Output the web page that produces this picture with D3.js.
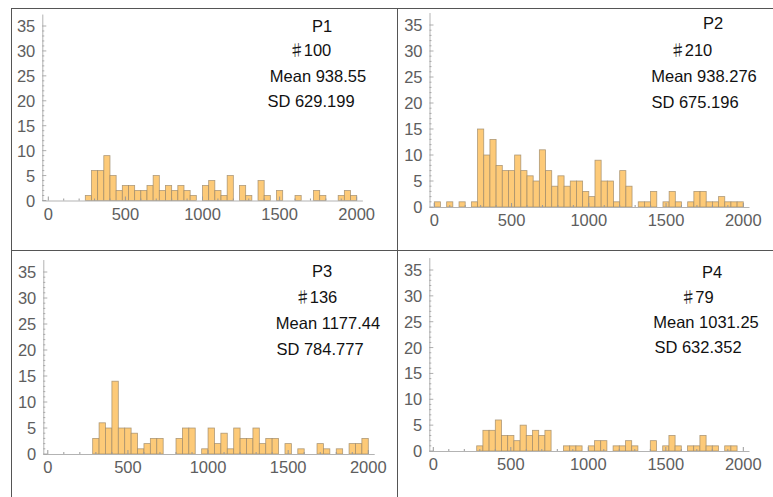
<!DOCTYPE html>
<html>
<head>
<meta charset="utf-8">
<script src="https://d3js.org/d3.v7.min.js"></script>
<style>
  body { margin: 0; background: #fff; }
  svg { display: block; }
  text { font-family: "Liberation Sans", Arial, sans-serif; }
</style>
</head>
<body>
<svg id="chart" width="773" height="497"></svg>
<script>
// histogram bins: 50 bins of width 40 from 0 to 2000
const BIN_WIDTH = 40;

const panelNames = ['P1', 'P2', 'P3', 'P4'];
const panelN = [100, 210, 136, 79];
const panelMean = ['938.55', '938.276', '1177.44', '1031.25'];
const panelSD = ['629.199', '675.196', '784.777', '632.352'];

const countsP1 = [0, 0, 0, 0, 0, 0, 1, 6, 6, 9, 5, 2, 3, 3, 2, 2, 3, 5, 2, 3,
                  2, 3, 2, 1, 0, 3, 4, 2, 1, 5, 0, 3, 1, 0, 4, 1, 0, 2, 0, 0,
                  1, 0, 0, 2, 1, 0, 0, 1, 2, 1];
const countsP2 = [1, 0, 1, 0, 1, 0, 1, 15, 10, 13, 8, 7, 7, 10, 7, 6, 5, 11, 7, 4,
                  6, 4, 5, 5, 3, 2, 9, 5, 5, 1, 7, 4, 0, 1, 1, 3, 0, 1, 3, 1,
                  0, 1, 3, 3, 1, 1, 2, 1, 1, 1];
const countsP3 = [0, 0, 0, 0, 0, 0, 0, 3, 6, 5, 14, 5, 5, 4, 1, 2, 3, 3, 0, 0,
                  3, 5, 5, 0, 1, 5, 2, 4, 1, 5, 3, 3, 5, 2, 3, 3, 0, 2, 0, 1,
                  0, 0, 2, 1, 0, 1, 0, 2, 2, 3];
const countsP4 = [0, 0, 0, 0, 0, 0, 0, 1, 4, 4, 6, 3, 3, 2, 5, 3, 4, 3, 4, 0,
                  0, 1, 1, 1, 0, 1, 2, 2, 0, 1, 1, 2, 1, 0, 0, 2, 0, 1, 3, 1,
                  0, 1, 1, 3, 1, 1, 0, 1, 1, 0];
const allCounts = [countsP1, countsP2, countsP3, countsP4];

const xTicks = [0, 500, 1000, 1500, 2000];
const yTicks = [0, 5, 10, 15, 20, 25, 30, 35];

// pixel layout of each panel (x of value 0 / 2000, y of count 0 / 35, y axis line, text centres)
const layout = [
  { x0: 48.3, x1: 356.7, axisX: 42.3, y0: 200.5, y35: 26,
    text: [[322, 26], [310, 50], [318, 76], [311, 101]] },
  { x0: 434.3, x1: 743.3, axisX: 429.5, y0: 207, y35: 25,
    text: [[713, 23], [691, 50], [704, 76], [695, 102]] },
  { x0: 47.8, x1: 368.3, axisX: 43.3, y0: 454, y35: 272,
    text: [[322, 271], [316, 297], [328, 323], [320, 349]] },
  { x0: 433.3, x1: 743.3, axisX: 429.3, y0: 451, y35: 270,
    text: [[712, 272], [697, 297], [706, 322], [698, 347]] }
];

const svg = d3.select('#chart');

// grid frame
const frame = svg.append('g')
  .attr('stroke', '#555')
  .attr('stroke-width', 1);
frame.append('line').attr('x1', 11).attr('x2', 773).attr('y1', 8.5).attr('y2', 8.5);
frame.append('line').attr('x1', 11).attr('x2', 773).attr('y1', 250.5).attr('y2', 250.5);
frame.append('line').attr('x1', 11.5).attr('x2', 11.5).attr('y1', 8).attr('y2', 497);
frame.append('line').attr('x1', 397.5).attr('x2', 397.5).attr('y1', 8).attr('y2', 497);

panelNames.forEach((name, i) => {
  const L = layout[i];
  const counts = allCounts[i];
  const bins = counts.map((c, k) => ({ start: k * BIN_WIDTH, count: c }));

  const x = d3.scaleLinear().domain([0, 2000]).range([L.x0, L.x1]);
  const y = d3.scaleLinear().domain([0, 35]).range([L.y0, L.y35]);

  const g = svg.append('g');

  // bars
  g.append('g')
    .selectAll('rect')
    .data(bins.filter(d => d.count > 0))
    .join('rect')
    .attr('x', d => x(d.start))
    .attr('width', d => x(d.start + BIN_WIDTH) - x(d.start))
    .attr('y', d => y(d.count))
    .attr('height', d => y(0) - y(d.count))
    .attr('fill', '#fdca78')
    .attr('stroke', '#9b8768')
    .attr('stroke-opacity', 0.8)
    .attr('stroke-width', 0.8);

  const xEnd = x(2040);
  const yTop = y(37.3);

  // x axis
  const xa = g.append('g');
  xa.append('line')
    .attr('x1', L.axisX).attr('x2', xEnd)
    .attr('y1', L.y0 + 0.5).attr('y2', L.y0 + 0.5)
    .attr('stroke', '#b3b3b3');
  xa.selectAll('line.minor')
    .data(d3.range(0, 2001, 100))
    .join('line')
    .attr('class', 'minor')
    .attr('x1', d => x(d)).attr('x2', d => x(d))
    .attr('y1', L.y0).attr('y2', d => L.y0 - (d % 500 === 0 ? 4 : 2))
    .attr('stroke', '#999');
  xa.selectAll('text')
    .data(xTicks)
    .join('text')
    .attr('x', d => x(d))
    .attr('y', L.y0 + 19)
    .attr('text-anchor', 'middle')
    .attr('font-size', 16.5)
    .attr('fill', '#5e5e5e')
    .text(d => d);

  // y axis
  const ya = g.append('g');
  ya.append('line')
    .attr('x1', L.axisX + 0.5).attr('x2', L.axisX + 0.5)
    .attr('y1', L.y0 + 0.5).attr('y2', yTop)
    .attr('stroke', '#b3b3b3');
  ya.selectAll('line.minor')
    .data(d3.range(0, 36, 1))
    .join('line')
    .attr('class', 'minor')
    .attr('x1', L.axisX).attr('x2', d => L.axisX + (d % 5 === 0 ? 4 : 2))
    .attr('y1', d => y(d)).attr('y2', d => y(d))
    .attr('stroke', '#999')
    .attr('stroke-width', 0.8);
  ya.selectAll('text')
    .data(yTicks)
    .join('text')
    .attr('x', L.axisX - 7)
    .attr('y', d => y(d) + 6)
    .attr('text-anchor', 'end')
    .attr('font-size', 16.5)
    .attr('fill', '#5e5e5e')
    .text(d => d);

  // annotations
  const lines = [
    [{ t: name }],
    [{ t: '\u266F', sharp: true }, { t: String(panelN[i]), dx: -1 }],
    [{ t: 'Mean ' + panelMean[i] }],
    [{ t: 'SD ' + panelSD[i] }]
  ];
  const notes = g.selectAll('text.note')
    .data(lines)
    .join('text')
    .attr('class', 'note')
    .attr('x', (d, k) => L.text[k][0])
    .attr('y', (d, k) => L.text[k][1] + 6)
    .attr('text-anchor', 'middle')
    .attr('font-size', 16.5)
    .attr('fill', '#111');
  notes.selectAll('tspan')
    .data(d => d)
    .join('tspan')
    .style('font-family', d => d.sharp ? '"Noto Sans CJK JP", "DejaVu Sans", sans-serif' : null)
    .attr('font-size', d => d.sharp ? 16 : null)
    .attr('dx', d => d.dx || null)
    .text(d => d.t);
});
</script>
</body>
</html>
